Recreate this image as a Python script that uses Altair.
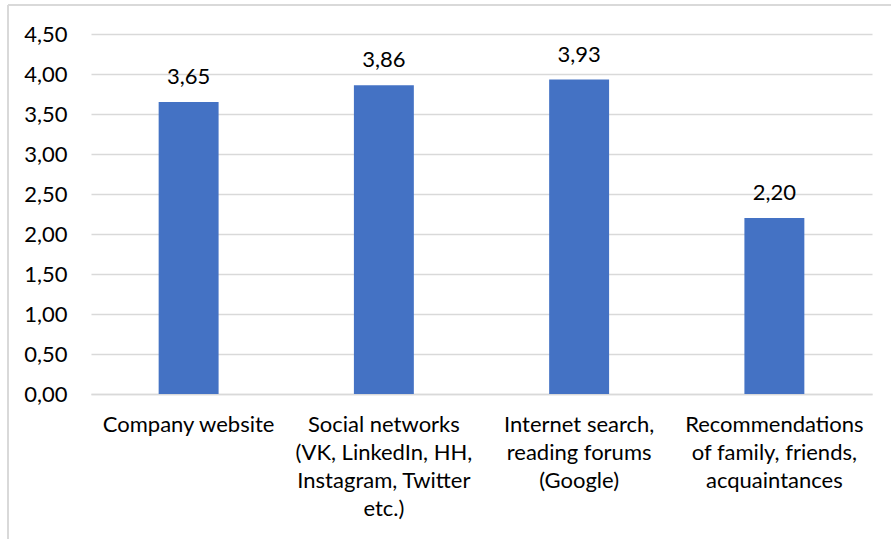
import altair as alt
import pandas as pd

categories = [
    "Company website",
    "Social networks|(VK, LinkedIn, HH,|Instagram, Twitter|etc.)",
    "Internet search,|reading forums|(Google)",
    "Recommendations|of family, friends,|acquaintances",
]
values = [3.65, 3.86, 3.93, 2.20]
y_ticks = [0, 0.5, 1.0, 1.5, 2.0, 2.5, 3.0, 3.5, 4.0, 4.5]

df = pd.DataFrame({"category": categories, "value": values})

FONT = "Lato"
FS = 22
BLUE = "#4472C4"
GRID = "#D9D9D9"

x = alt.X(
    "category:N",
    sort=categories,
    scale=alt.Scale(paddingInner=0.693, paddingOuter=0.3465),
    axis=alt.Axis(
        title=None,
        labelAngle=0,
        labelExpr="split(datum.label, '|')",
        labelLineHeight=28,
        labelPadding=20,
        labelBaseline="top",
        labelFont=FONT,
        labelFontSize=FS,
        labelColor="#000000",
        ticks=False,
        domainColor=GRID,
        domainWidth=1.5,
        grid=False,
    ),
)
y = alt.Y(
    "value:Q",
    scale=alt.Scale(domain=[0, 4.5], nice=False),
    axis=alt.Axis(
        title=None,
        values=y_ticks,
        labelExpr="replace(format(datum.value, '.2f'), '.', ',')",
        labelFont=FONT,
        labelFontSize=FS,
        labelColor="#000000",
        labelPadding=24,
        labelOverlap=False,
        ticks=False,
        domain=False,
        gridColor=GRID,
        gridWidth=1.5,
    ),
)

bars = alt.Chart(df).mark_bar(color=BLUE).encode(x=x, y=y)
texts = (
    alt.Chart(df)
    .transform_calculate(lbl="replace(format(datum.value, '.2f'), '.', ',')")
    .mark_text(font=FONT, fontSize=FS, color="#000000", dy=-25, baseline="middle")
    .encode(x=x, y=y, text="lbl:N")
)

frame_v = alt.Chart(df).mark_rule(color=GRID, strokeWidth=1.5).encode(
    x=alt.value(-83), y=alt.value(-29), y2=alt.value(510)
)
frame_h = alt.Chart(df).mark_rule(color=GRID, strokeWidth=1.5).encode(
    x=alt.value(-83), x2=alt.value(805), y=alt.value(-29)
)

chart = (
    alt.layer(bars, texts, frame_v, frame_h)
    .properties(
        width=781,
        height=360,
        padding={"left": 91, "top": 34, "right": 19, "bottom": 145},
        autosize=alt.AutoSizeParams(type="none"),
        background="white",
    )
    .configure_view(stroke=None)
)

chart.save("out.html", embed_options={"renderer": "svg", "actions": False})
